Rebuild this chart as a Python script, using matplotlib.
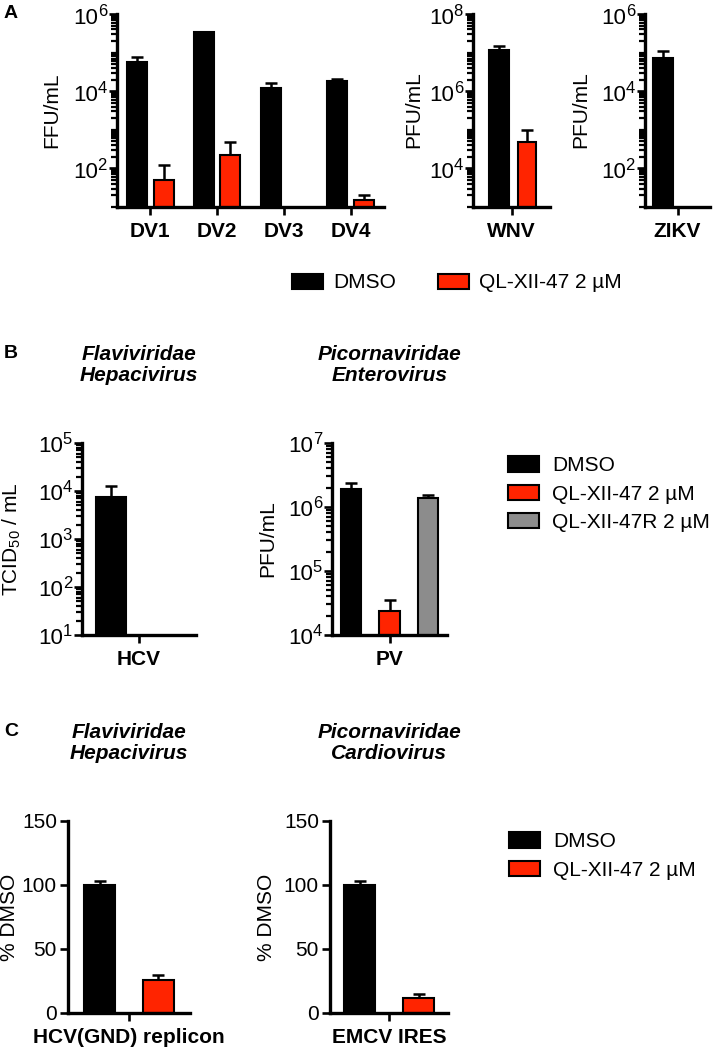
import numpy as np
import matplotlib
matplotlib.use('Agg')
import matplotlib.pyplot as plt
from matplotlib.patches import Patch
from matplotlib.ticker import FixedLocator, NullFormatter
from matplotlib.transforms import offset_copy

plt.rcParams['font.family'] = ['Liberation Sans', 'DejaVu Sans']
plt.rcParams['mathtext.fontset'] = 'custom'
plt.rcParams['mathtext.rm'] = 'Liberation Sans'
plt.rcParams['mathtext.it'] = 'Liberation Sans:italic'
plt.rcParams['mathtext.bf'] = 'Liberation Sans:bold'
plt.rcParams['mathtext.default'] = 'regular'

# ---- data ----
# panel A, dengue serotypes (FFU/mL)
dv_labels = ['DV1', 'DV2', 'DV3', 'DV4']
dv_dmso = [5.6e4, 3.4e5, 1.2e4, 1.8e4]
dv_dmso_err = [2.0e4, 0.1e5, 4.0e3, 3.0e3]
dv_ql = [49, 220, np.nan, 15]
dv_ql_err = [71, 260, np.nan, 6]

# panel A, WNV and ZIKV (PFU/mL)
wnv_dmso, wnv_dmso_err = 1.16e7, 3.5e6
wnv_ql, wnv_ql_err = 4.8e4, 5.2e4
zikv_dmso, zikv_dmso_err = 7.2e4, 3.8e4

# panel B
hcv_dmso, hcv_dmso_err = 7.5e3, 5.2e3
pv_values = [1.9e6, 2.4e4, 1.38e6]
pv_err = [5.0e5, 1.1e4, 1.7e5]

# panel C (% DMSO)
rep_values = [100, 25.6]
rep_err = [3.0, 3.9]
emcv_values = [100, 11.7]
emcv_err = [3.0, 3.1]

BLACK = '#000000'
RED = '#FF2400'
GRAY = '#8C8C8C'
FS = 15

W, H = 716, 1050
fig = plt.figure(figsize=(W / 100, H / 100), dpi=100)


def make_axes(x0, y0, x1, y1):
    return fig.add_axes([x0 / W, 1 - y1 / H, (x1 - x0) / W, (y1 - y0) / H])


def style(ax):
    for s in ['top', 'right']:
        ax.spines[s].set_visible(False)
    for s in ['left', 'bottom']:
        ax.spines[s].set_linewidth(2.4)
    ax.tick_params(which='major', length=6, width=1.9, labelsize=FS, pad=2)
    ax.tick_params(which='minor', length=4.2, width=1.6)
    ax.tick_params(axis='x', pad=5)


def log_axis(ax, lo, hi, labelled):
    # Prism-style labels: big "10" with a nearly full-size exponent
    ax.set_yscale('log')
    ax.set_ylim(10.0 ** lo, 10.0 ** hi)
    ax.set_yticks([10.0 ** e for e in labelled])
    ax.set_yticklabels([])
    minors = [k * 10.0 ** e for e in range(lo, hi) for k in range(1, 10)] + [10.0 ** hi]
    ax.yaxis.set_minor_locator(FixedLocator(minors))
    ax.yaxis.set_minor_formatter(NullFormatter())
    tr = ax.get_yaxis_transform()
    for e in labelled:
        ax.text(0, 10.0 ** e, str(e), fontsize=12, ha='right', va='center',
                transform=offset_copy(tr, fig=fig, x=-10, y=3, units='dots'), clip_on=False)
        ax.text(0, 10.0 ** e, '10', fontsize=16, ha='right', va='center',
                transform=offset_copy(tr, fig=fig, x=-19, y=-4, units='dots'), clip_on=False)


def bars(ax, x, vals, errs, color, width):
    ax.bar(x, vals, width=width, color=color, edgecolor='black', linewidth=1.5, zorder=2)
    ax.errorbar(x, vals, yerr=[np.zeros(len(vals)), errs], fmt='none', ecolor='black',
                elinewidth=1.8, capsize=4, capthick=1.8, zorder=1)


def xcat(ax, labels, n):
    ax.set_xlim(-0.5, n - 0.5)
    ax.set_xticks(range(n))
    ax.set_xticklabels(labels, fontweight='bold', fontsize=FS)


def ylab(text, x, y):
    fig.text(x / W, 1 - y / H, text, rotation=90, ha='center', va='center', fontsize=FS)


def title(text, x, y):
    fig.text(x / W, 1 - y / H, text, ha='center', va='center', fontsize=FS,
             fontweight='bold', fontstyle='italic', linespacing=1.15)


# ---- panel A ----
ax = make_axes(117, 14, 384, 207)
style(ax)
log_axis(ax, 1, 6, [2, 4, 6])
xc = np.arange(len(dv_labels))
bars(ax, xc - 0.2, dv_dmso, dv_dmso_err, BLACK, 0.3)
bars(ax, xc + 0.2, dv_ql, dv_ql_err, RED, 0.3)
xcat(ax, dv_labels, len(dv_labels))
ylab('FFU/mL', 52, 110)

ax = make_axes(473, 14, 550, 207)
style(ax)
log_axis(ax, 3, 8, [4, 6, 8])
bars(ax, [-0.16], [wnv_dmso], [wnv_dmso_err], BLACK, 0.26)
bars(ax, [0.2], [wnv_ql], [wnv_ql_err], RED, 0.23)
xcat(ax, ['WNV'], 1)
ylab('PFU/mL', 414, 110)

ax = make_axes(645, 14, 710, 207)
style(ax)
log_axis(ax, 1, 6, [2, 4, 6])
bars(ax, [-0.22], [zikv_dmso], [zikv_dmso_err], BLACK, 0.31)
xcat(ax, ['ZIKV'], 1)
ylab('PFU/mL', 581, 110)

fig.legend([Patch(facecolor=BLACK, edgecolor='black', linewidth=1.5),
            Patch(facecolor=RED, edgecolor='black', linewidth=1.5)],
           ['DMSO', 'QL-XII-47 2 µM'], ncol=2, loc='center left',
           bbox_to_anchor=(292 / W, 1 - 283 / H), frameon=False, fontsize=FS,
           handlelength=1.48, handleheight=0.76, handletextpad=0.5,
           columnspacing=2.0, borderpad=0, borderaxespad=0)

# ---- panel B ----
ax = make_axes(82, 443, 196, 635)
style(ax)
log_axis(ax, 1, 5, [1, 2, 3, 4, 5])
bars(ax, [-0.245], [hcv_dmso], [hcv_dmso_err], BLACK, 0.26)
xcat(ax, ['HCV'], 1)
ylab('TCID$_{50}$ / mL', 12, 539)
title('Flaviviridae\nHepacivirus', 139, 365)

ax = make_axes(332, 443, 447, 635)
style(ax)
log_axis(ax, 4, 7, [4, 5, 6, 7])
bars(ax, [-0.335, 0.0, 0.335], pv_values, pv_err, [BLACK, RED, GRAY], 0.18)
xcat(ax, ['PV'], 1)
ylab('PFU/mL', 268, 539)
title('Picornaviridae\nEnterovirus', 390, 365)

fig.legend([Patch(facecolor=BLACK, edgecolor='black', linewidth=1.5),
            Patch(facecolor=RED, edgecolor='black', linewidth=1.5),
            Patch(facecolor=GRAY, edgecolor='black', linewidth=1.5)],
           ['DMSO', 'QL-XII-47 2 µM', 'QL-XII-47R 2 µM'], loc='center left',
           bbox_to_anchor=(508 / W, 1 - 494 / H), frameon=False, fontsize=FS,
           handlelength=1.48, handleheight=0.76, handletextpad=0.65,
           labelspacing=0.45, borderpad=0, borderaxespad=0)

# ---- panel C ----
ax = make_axes(68, 821, 190, 1013)
style(ax)
ax.set_ylim(0, 150)
ax.set_yticks([0, 50, 100, 150])
bars(ax, [-0.24, 0.24], rep_values, rep_err, [BLACK, RED], 0.25)
xcat(ax, ['HCV(GND) replicon'], 1)
ylab('% DMSO', 10, 917)
title('Flaviviridae\nHepacivirus', 129, 743)

ax = make_axes(330, 821, 448, 1013)
style(ax)
ax.set_ylim(0, 150)
ax.set_yticks([0, 50, 100, 150])
bars(ax, [-0.25, 0.25], emcv_values, emcv_err, [BLACK, RED], 0.255)
xcat(ax, ['EMCV IRES'], 1)
ylab('% DMSO', 267, 917)
title('Picornaviridae\nCardiovirus', 389, 743)

fig.legend([Patch(facecolor=BLACK, edgecolor='black', linewidth=1.5),
            Patch(facecolor=RED, edgecolor='black', linewidth=1.5)],
           ['DMSO', 'QL-XII-47 2 µM'], loc='center left',
           bbox_to_anchor=(509 / W, 1 - 856 / H), frameon=False, fontsize=FS,
           handlelength=1.48, handleheight=0.76, handletextpad=0.65,
           labelspacing=0.45, borderpad=0, borderaxespad=0)

# panel letters
for letter, y in [('A', 5), ('B', 345), ('C', 723)]:
    fig.text(4 / W, 1 - y / H, letter, fontsize=14, fontweight='bold', va='top', ha='left')

fig.savefig('out.png', dpi=100)
